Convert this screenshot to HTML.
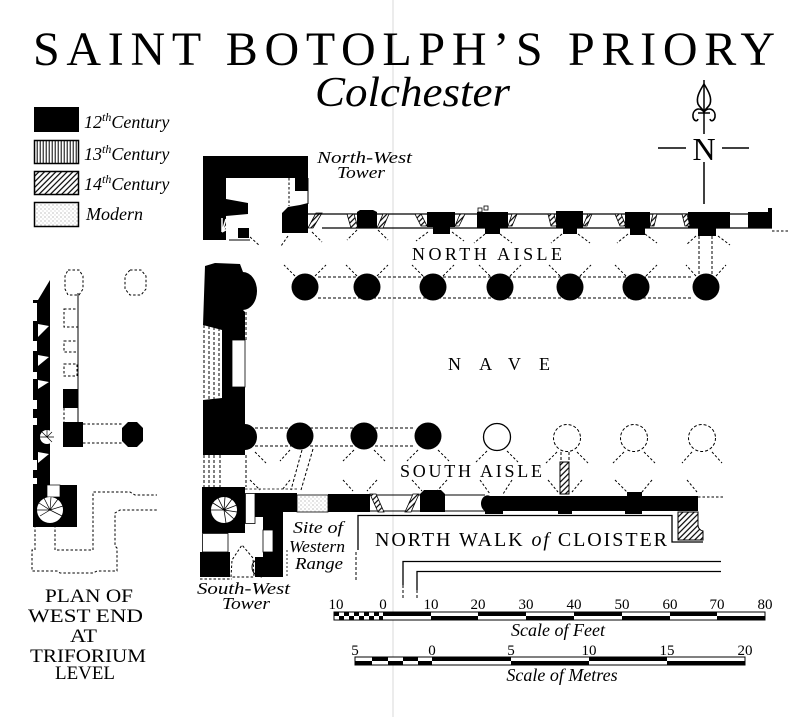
<!DOCTYPE html>
<html><head><meta charset="utf-8">
<style>html,body{margin:0;padding:0;background:#fff;}svg{display:block;}</style>
</head><body>
<svg width="800" height="717" viewBox="0 0 800 717" xmlns="http://www.w3.org/2000/svg">
<defs>
<pattern id="vert" width="3" height="10" patternUnits="userSpaceOnUse"><rect width="3" height="10" fill="#fff"/><line x1="1.2" y1="0" x2="1.2" y2="10" stroke="#000" stroke-width="1"/></pattern>
<pattern id="diag" width="4" height="4" patternUnits="userSpaceOnUse" patternTransform="rotate(45)"><rect width="4" height="4" fill="#fff"/><line x1="1" y1="0" x2="1" y2="4" stroke="#000" stroke-width="1.2"/></pattern>
<pattern id="dots" width="4" height="4" patternUnits="userSpaceOnUse"><rect width="4" height="4" fill="#fff"/><circle cx="1" cy="1" r="0.5" fill="#666"/><circle cx="3" cy="3" r="0.45" fill="#999"/></pattern>
</defs>
<rect width="800" height="717" fill="#fff"/>
<!-- fold line -->
<line x1="393" y1="0" x2="393" y2="717" stroke="#d8d8d8" stroke-width="1"/>

<!-- Title -->
<text x="33" y="65" font-family="Liberation Serif, serif" font-size="48" textLength="742" lengthAdjust="spacing">SAINT BOTOLPH’S PRIORY</text>
<text x="315" y="106" font-family="Liberation Serif, serif" font-style="italic" font-size="42" textLength="195" lengthAdjust="spacingAndGlyphs">Colchester</text>

<!-- Legend -->
<rect x="34" y="107" width="45" height="25" fill="#000"/>
<rect x="34.5" y="140.5" width="44" height="23" fill="url(#vert)" stroke="#000" stroke-width="1.5"/>
<rect x="34.5" y="171.5" width="44" height="23" fill="url(#diag)" stroke="#000" stroke-width="1.5"/>
<rect x="34.5" y="202.5" width="44" height="24" fill="url(#dots)" stroke="#000" stroke-width="1.5"/>
<g font-family="Liberation Serif, serif" font-style="italic" font-size="18">
<text x="84" y="128">12<tspan font-size="12" dy="-7">th</tspan><tspan dy="7">Century</tspan></text>
<text x="84" y="160">13<tspan font-size="12" dy="-7">th</tspan><tspan dy="7">Century</tspan></text>
<text x="84" y="190">14<tspan font-size="12" dy="-7">th</tspan><tspan dy="7">Century</tspan></text>
<text x="86" y="220">Modern</text>
</g>

<!-- North arrow -->
<line x1="704" y1="80" x2="704" y2="204" stroke="#000" stroke-width="1.5"/>
<line x1="658" y1="148" x2="688" y2="148" stroke="#000" stroke-width="1.5"/>
<line x1="720" y1="148" x2="749" y2="148" stroke="#000" stroke-width="1.5"/>
<path d="M704,84 C699,92 696,98 698,104 C700,108 703,109 704,112 C705,109 708,108 710,104 C712,98 709,92 704,84 Z" fill="none" stroke="#000" stroke-width="1.6"/>
<path d="M704,112 C699,106 692,110 693,117 C694,121 697,122 698,119 M704,112 C709,106 716,110 715,117 C714,121 711,122 710,119 M698,113 H710" fill="none" stroke="#000" stroke-width="1.6"/>
<rect x="686" y="134" width="36" height="28" fill="#fff"/>
<text x="704" y="160" text-anchor="middle" font-family="Liberation Serif, serif" font-size="32">N</text>

<!-- ===== NW Tower ===== -->
<g fill="#000">
<rect x="203" y="156" width="105" height="22"/>
<rect x="203" y="178" width="23" height="62"/>
<polygon points="226,199 248,203 248,214 226,216"/>
<rect x="238" y="228" width="11" height="10"/>
<rect x="295" y="178" width="13" height="13"/>
<polygon points="282,213 288,207 300,205 308,203 308,233 282,233"/>
</g>
<path d="M222,232 L222,218 M222,232 L226,219 M222,232 L230,221 M222,232 L233,226" stroke="#fff" stroke-width="1.5"/>
<line x1="229" y1="240" x2="250" y2="240" stroke="#000" stroke-width="1"/>
<line x1="289" y1="178" x2="289" y2="206" stroke="#000" stroke-width="1" stroke-dasharray="2.5 2"/>
<line x1="308" y1="178" x2="308" y2="204" stroke="#000" stroke-width="1"/>
<polygon points="308,228 316,213 322,213 313,228" fill="url(#diag)" stroke="#000" stroke-width="0.8"/>

<!-- North wall lines -->
<line x1="308" y1="214" x2="772" y2="214" stroke="#000" stroke-width="1.2"/>
<line x1="322" y1="228" x2="772" y2="228" stroke="#000" stroke-width="1.2"/>
<line x1="772" y1="231" x2="790" y2="231" stroke="#000" stroke-width="1" stroke-dasharray="2.5 2"/>

<!-- north wall piers -->
<g fill="#000">
<polygon points="357,212 360,210 373,210 377,212 377,228 357,228"/>
<polygon points="427,212 455,212 455,227 450,227 450,234 433,234 433,227 427,227"/>
<polygon points="477,212 508,212 508,228 500,228 500,234 485,234 485,228 477,228"/>
<polygon points="556,211 583,211 583,228 577,228 577,234 563,234 563,228 556,228"/>
<polygon points="625,212 650,212 650,228 645,228 645,235 630,235 630,228 625,228"/>
<polygon points="688,212 730,212 730,228 716,228 716,236 698,236 698,228 688,228"/>
<polygon points="748,212 768,212 768,208 772,208 772,228 748,228"/>
</g>
<g fill="url(#diag)" stroke="#000" stroke-width="0.8">
<polygon points="347,214 354,214 358,228 351,228"/>
<polygon points="377,228 383,214 389,214 383,228"/>
<polygon points="415,214 421,214 427,226 421,226"/>
<polygon points="455,226 460,214 465,214 459,226"/>
<polygon points="508,226 512,214 517,214 512,226"/>
<polygon points="548,214 554,214 557,226 551,226"/>
<polygon points="583,226 588,214 592,214 587,226"/>
<polygon points="615,214 621,214 626,226 620,226"/>
<polygon points="650,226 653,214 657,214 654,226"/>
<polygon points="682,214 687,214 690,226 685,226"/>
</g>
<rect x="478" y="208" width="4" height="4" fill="#fff" stroke="#000" stroke-width="0.8"/>
<rect x="484" y="206" width="4" height="4" fill="#fff" stroke="#000" stroke-width="0.8"/>

<!-- North arcade -->
<g stroke="#000" stroke-width="1" stroke-dasharray="3 2" fill="none">
<line x1="318" y1="277" x2="693" y2="277"/>
<line x1="318" y1="298" x2="693" y2="298"/>
<line x1="699" y1="236" x2="699" y2="275"/>
<line x1="712" y1="236" x2="712" y2="275"/>
</g>
<g fill="#000">
<circle cx="305" cy="287" r="13.5"/>
<circle cx="367" cy="287" r="13.5"/>
<circle cx="433" cy="287" r="13.5"/>
<circle cx="500" cy="287" r="13.5"/>
<circle cx="570" cy="287" r="13.5"/>
<circle cx="636" cy="287" r="13.5"/>
<circle cx="706" cy="287" r="13.5"/>
</g>

<!-- vault dashes north aisle -->
<g stroke="#000" stroke-width="1" stroke-dasharray="2.5 2" fill="none">
<path d="M250,237 L260,246 M288,236 L281,246 M312,232 L322,242 M357,230 L347,240 M378,230 L388,240 M428,232 L416,241 M452,232 L464,241 M485,234 L474,243 M500,234 L512,243 M562,234 L551,243 M578,234 L590,243 M628,234 L617,243 M645,234 L657,243 M696,236 L686,245 M718,236 L730,245"/>
<path d="M295,276 L284,265 M315,276 L326,265 M357,276 L346,265 M377,276 L388,265 M423,276 L412,265 M443,276 L454,265 M490,276 L479,265 M510,276 L521,265 M560,276 L549,265 M580,276 L591,265 M626,276 L615,265 M646,276 L657,265 M696,276 L686,265 M716,276 L726,265"/>
</g>

<!-- West front piers -->
<path d="M205,266 L215,263 L240,264 L243,272 A14,19 0 0 1 243,310 L245,312 L245,340 L232,340 L232,387 L245,387 L245,424 A12,13 0 0 1 245,450 L245,455 L203,455 L203,400 L222,398 L222,330 L203,325 Z" fill="#000"/>
<rect x="232" y="340" width="13" height="47" fill="#fff" stroke="#000" stroke-width="0.8"/>
<g stroke="#000" stroke-width="1" stroke-dasharray="3 2">
<line x1="204" y1="325" x2="204" y2="400"/>
<line x1="209" y1="326" x2="209" y2="399"/>
<line x1="214" y1="327" x2="214" y2="399"/>
<line x1="219" y1="328" x2="219" y2="398"/>
<line x1="204" y1="455" x2="204" y2="487"/>
<line x1="209" y1="455" x2="209" y2="487"/>
<line x1="214" y1="455" x2="214" y2="487"/>
<line x1="220" y1="455" x2="220" y2="487"/>
<line x1="246" y1="312" x2="246" y2="340"/>
<line x1="246" y1="455" x2="246" y2="487"/>
</g>

<!-- South arcade -->
<g stroke="#000" stroke-width="1" stroke-dasharray="3 2" fill="none">
<line x1="255" y1="428" x2="415" y2="428"/>
<line x1="255" y1="446" x2="415" y2="446"/>
<line x1="302" y1="450" x2="291" y2="490"/>
<line x1="313" y1="449" x2="301" y2="490"/>
<line x1="561" y1="452" x2="561" y2="462"/>
<line x1="569" y1="452" x2="569" y2="462"/>
<circle cx="567" cy="438" r="13.5"/>
<circle cx="634" cy="438" r="13.5"/>
<circle cx="702" cy="438" r="13.5"/>
</g>
<g fill="#000">
<circle cx="300" cy="436" r="13.5"/>
<circle cx="364" cy="436" r="13.5"/>
<circle cx="428" cy="436" r="13.5"/>
</g>
<circle cx="497" cy="437" r="13.5" fill="#fff" stroke="#000" stroke-width="1.3"/>

<!-- vault dashes south aisle -->
<g stroke="#000" stroke-width="1" stroke-dasharray="2.5 2" fill="none">
<path d="M255,452 L266,463 M290,450 L280,461 M354,450 L343,461 M374,450 L385,461 M418,450 L407,461 M438,450 L449,461 M487,451 L476,462 M507,451 L518,462 M557,452 L546,463 M577,452 L588,463 M624,452 L613,463 M644,452 L655,463 M692,452 L682,463 M712,452 L722,463"/>
<path d="M250,480 L260,490 M290,480 L282,490 M343,480 L353,491 M377,480 L367,491 M412,480 L422,491 M447,480 L437,491 M480,480 L490,494 M512,480 L503,494 M548,480 L558,492 M582,480 L572,492 M615,480 L627,492 M652,480 L642,492 M687,480 L697,492"/>
</g>

<!-- South wall -->
<rect x="297" y="495" width="31" height="17" fill="url(#dots)" stroke="#000" stroke-width="0.8"/>
<line x1="370" y1="495" x2="485" y2="495" stroke="#000" stroke-width="1"/>
<line x1="370" y1="511" x2="485" y2="511" stroke="#000" stroke-width="1"/>
<g fill="#000">
<rect x="328" y="494" width="42" height="18"/>
<polygon points="420,494 424,490 441,490 445,494 445,512 420,512"/>
<path d="M490,496 H698 V511 H642 V514 H625 V511 H572 V514 H558 V511 H503 V514 H485 V511 A6,7.5 0 0 1 490,496 Z"/>
<rect x="627" y="492" width="15" height="5"/>
</g>
<polygon points="370,494 376,494 384,512 378,512" fill="url(#diag)" stroke="#000" stroke-width="0.8"/>
<polygon points="405,512 411,512 419,494 413,494" fill="url(#diag)" stroke="#000" stroke-width="0.8"/>
<rect x="560" y="462" width="9" height="32" fill="url(#diag)" stroke="#000" stroke-width="1"/>
<line x1="698" y1="497" x2="725" y2="497" stroke="#000" stroke-width="1" stroke-dasharray="2.5 2"/>
<path d="M678,512 H698 V525 A6,6 0 0 0 703,531 V540 H678 Z" fill="url(#diag)" stroke="#000" stroke-width="1"/>

<!-- Cloister outlines -->
<path d="M358,550 V515.5 H672 V542 H703" fill="none" stroke="#000" stroke-width="1.3"/>
<line x1="356" y1="552" x2="356" y2="582" stroke="#000" stroke-width="1" stroke-dasharray="3 2"/>
<path d="M403,585 V561.5 H721" fill="none" stroke="#000" stroke-width="1.3"/>
<path d="M417,590 V571.5 H721" fill="none" stroke="#000" stroke-width="1.3"/>
<line x1="403" y1="585" x2="403" y2="600" stroke="#000" stroke-width="1" stroke-dasharray="3 2"/>
<line x1="417" y1="590" x2="417" y2="600" stroke="#000" stroke-width="1" stroke-dasharray="3 2"/>

<!-- SW Tower -->
<g fill="#000">
<polygon points="202,487 245,487 245,533 228,533 202,533"/>
<polygon points="255,493 297,493 297,512 283,512 283,577 255,577 255,557 263,557 263,517 255,517"/>
<rect x="200" y="552" width="30" height="25"/>
</g>
<rect x="245.5" y="493.5" width="9.5" height="30" fill="#fff" stroke="#000" stroke-width="0.8"/>
<rect x="263" y="530" width="10" height="22" fill="#fff" stroke="#000" stroke-width="0.8"/>
<circle cx="224" cy="510" r="13" fill="#fff"/>
<path d="M224,510 L211,510 M224,510 L213,503 M224,510 L218,498 M224,510 L225,497 M224,510 L232,499 M224,510 L237,505 M224,510 L237,512 M224,510 L234,519 M224,510 L226,523" stroke="#000" stroke-width="0.8"/>
<path d="M229,523 L245,510 L245,533 L229,533 Z" fill="#000"/>
<rect x="202.5" y="533.5" width="25.5" height="18.5" fill="#fff" stroke="#000" stroke-width="0.8"/>
<polygon points="231,577 232,560 242,545 253,558 254,577" fill="none" stroke="#000" stroke-width="1" stroke-dasharray="2.5 2"/>
<path d="M262,558 Q252,560 252,567 Q252,575 262,577" fill="none" stroke="#000" stroke-width="1"/>
<line x1="200" y1="579" x2="232" y2="579" stroke="#000" stroke-width="1" stroke-dasharray="2.5 2"/>
<line x1="245" y1="489" x2="297" y2="489" stroke="#000" stroke-width="0.8" stroke-dasharray="2.5 2"/>
<line x1="287" y1="550" x2="287" y2="578" stroke="#000" stroke-width="0.8" stroke-dasharray="2 2"/>

<!-- ===== Left plan (triforium) ===== -->
<polygon points="33,300 38,300 50,280 50,527 33,527" fill="#000"/>
<g fill="#fff">
<rect x="33" y="303" width="4" height="18"/>
<rect x="33" y="341" width="4" height="10"/>
<rect x="33" y="372" width="4" height="7"/>
<rect x="33" y="400" width="4" height="9"/>
<rect x="33" y="418" width="4" height="7"/>
<rect x="33" y="460" width="4" height="10"/>
<rect x="33" y="478" width="4" height="6"/>
<polygon points="38,324 49,326 38,337"/>
<polygon points="38,355 49,357 38,366"/>
<polygon points="38,380 49,382 38,389"/>
<polygon points="38,452 49,454 38,463"/>
</g>
<circle cx="47" cy="437" r="7" fill="#fff"/>
<path d="M47,437 L40,437 M47,437 L42,432 M47,437 L47,430 M47,437 L52,432 M47,437 L54,437 M47,437 L52,442" stroke="#000" stroke-width="0.7"/>
<rect x="50" y="485" width="27" height="42" fill="#000"/>
<rect x="47" y="485" width="13" height="12" fill="#fff" stroke="#000" stroke-width="0.7"/>
<circle cx="50" cy="510" r="13" fill="#fff"/>
<path d="M50,510 L37,510 M50,510 L39,503 M50,510 L44,498 M50,510 L51,497 M50,510 L58,499 M50,510 L63,506 M50,510 L62,516 M50,510 L40,516" stroke="#000" stroke-width="0.7"/>
<path d="M37,518 Q50,530 63,518 L63,527 L38,527 Z" fill="#000"/>
<g stroke="#000" stroke-width="1" stroke-dasharray="2.5 2" fill="none">
<polygon points="68,270 79,270 83,276 83,289 79,295 68,295 65,289 65,276"/>
<polygon points="130,270 141,270 146,276 146,289 141,295 130,295 125,289 125,276"/>
<rect x="64" y="309" width="14" height="18"/>
<rect x="64" y="341" width="14" height="11"/>
<rect x="64" y="364" width="13" height="12"/>
<line x1="64" y1="408" x2="64" y2="422"/>
<line x1="83" y1="424" x2="122" y2="424"/>
<line x1="83" y1="443" x2="122" y2="443"/>
<path d="M35,525 V550 H32 V571 H57 L60,573 H93 L97,571 H117 V548 L115,546 V513 L120,510 H157"/>
<path d="M55,525 V550 H93 V492 H130 L135,495 H157"/>
</g>
<line x1="78" y1="293" x2="78" y2="422" stroke="#000" stroke-width="1"/>
<rect x="63" y="389" width="15" height="19" fill="#000"/>
<rect x="63" y="422" width="20" height="25" fill="#000"/>
<polygon points="128,422 137,422 143,428 143,441 137,447 128,447 122,441 122,428" fill="#000"/>

<!-- Labels -->
<g font-family="Liberation Serif, serif" font-style="italic" font-size="17">
<text x="317" y="163" textLength="95" lengthAdjust="spacingAndGlyphs">North-West</text>
<text x="337" y="178" textLength="48" lengthAdjust="spacingAndGlyphs">Tower</text>
<text x="293" y="533" textLength="50" lengthAdjust="spacingAndGlyphs">Site of</text>
<text x="289" y="552" textLength="56" lengthAdjust="spacingAndGlyphs">Western</text>
<text x="295" y="569" textLength="48" lengthAdjust="spacingAndGlyphs">Range</text>
<text x="197" y="594" textLength="93" lengthAdjust="spacingAndGlyphs">South-West</text>
<text x="222" y="609" textLength="48" lengthAdjust="spacingAndGlyphs">Tower</text>
</g>
<g font-family="Liberation Serif, serif" font-size="18">
<text x="412" y="260" textLength="150" lengthAdjust="spacing">NORTH AISLE</text>
<text x="448" y="370" textLength="102" lengthAdjust="spacing">NAVE</text>
<text x="400" y="477" textLength="142" lengthAdjust="spacing">SOUTH AISLE</text>
<text x="375" y="546" font-size="20" textLength="292" lengthAdjust="spacing">NORTH WALK <tspan font-style="italic">of</tspan> CLOISTER</text>
</g>
<g font-family="Liberation Serif, serif" font-size="19">
<text x="45" y="602" textLength="88" lengthAdjust="spacingAndGlyphs">PLAN OF</text>
<text x="28" y="622" textLength="115" lengthAdjust="spacingAndGlyphs">WEST END</text>
<text x="70" y="642" textLength="27" lengthAdjust="spacingAndGlyphs">AT</text>
<text x="30" y="662" textLength="116" lengthAdjust="spacingAndGlyphs">TRIFORIUM</text>
<text x="55" y="679" textLength="60" lengthAdjust="spacingAndGlyphs">LEVEL</text>
</g>

<!-- Scale of feet -->
<g font-family="Liberation Serif, serif" font-size="15" text-anchor="middle">
<text x="336" y="609">10</text><text x="383" y="609">0</text><text x="431" y="609">10</text><text x="478" y="609">20</text><text x="526" y="609">30</text><text x="574" y="609">40</text><text x="622" y="609">50</text><text x="670" y="609">60</text><text x="717" y="609">70</text><text x="765" y="609">80</text>
<text x="355" y="655">5</text><text x="432" y="655">0</text><text x="511" y="655">5</text><text x="589" y="655">10</text><text x="667" y="655">15</text><text x="745" y="655">20</text>
</g>
<rect x="334" y="612" width="431" height="8" fill="#fff" stroke="#000" stroke-width="1"/>
<g fill="#000">
<rect x="334" y="612" width="5" height="4"/><rect x="344" y="612" width="5" height="4"/><rect x="354" y="612" width="5" height="4"/><rect x="364" y="612" width="5" height="4"/><rect x="374" y="612" width="5" height="4"/>
<rect x="339" y="616" width="5" height="4"/><rect x="349" y="616" width="5" height="4"/><rect x="359" y="616" width="5" height="4"/><rect x="369" y="616" width="5" height="4"/><rect x="379" y="616" width="4" height="4"/>
<rect x="383" y="612" width="48" height="4"/>
<rect x="431" y="616" width="47" height="4"/>
<rect x="478" y="612" width="48" height="4"/>
<rect x="526" y="616" width="48" height="4"/>
<rect x="574" y="612" width="48" height="4"/>
<rect x="622" y="616" width="48" height="4"/>
<rect x="670" y="612" width="47" height="4"/>
<rect x="717" y="616" width="48" height="4"/>
</g>
<text x="558" y="636" text-anchor="middle" font-family="Liberation Serif, serif" font-style="italic" font-size="18">Scale of Feet</text>

<!-- Scale of metres -->
<rect x="355" y="657" width="390" height="8" fill="#fff" stroke="#000" stroke-width="1"/>
<g fill="#000">
<rect x="355" y="661" width="17" height="4"/>
<rect x="372" y="657" width="16" height="4"/>
<rect x="388" y="661" width="15" height="4"/>
<rect x="403" y="657" width="15" height="4"/>
<rect x="418" y="661" width="14" height="4"/>
<rect x="432" y="657" width="79" height="4"/>
<rect x="511" y="661" width="78" height="4"/>
<rect x="589" y="657" width="78" height="4"/>
<rect x="667" y="661" width="78" height="4"/>
</g>
<text x="562" y="681" text-anchor="middle" font-family="Liberation Serif, serif" font-style="italic" font-size="18">Scale of Metres</text>
</svg>
</body></html>
